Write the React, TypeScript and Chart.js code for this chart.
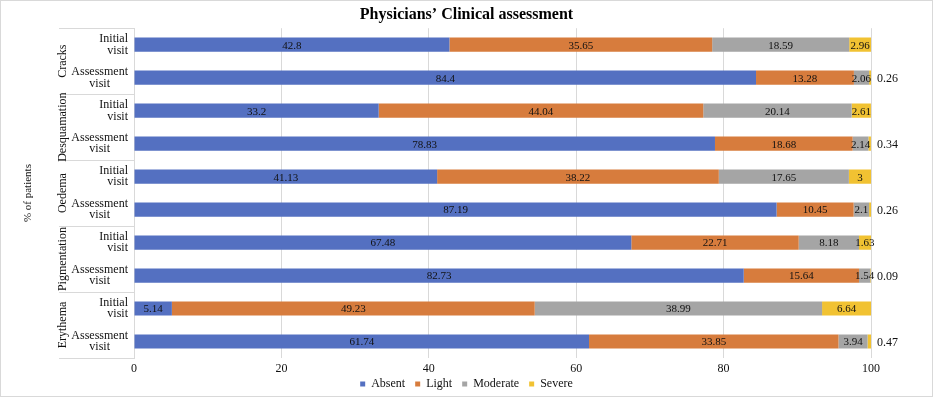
import React, { useEffect, useRef } from 'react';
import { Chart, registerables } from 'chart.js';

Chart.register(...registerables);

const FONT = "'Liberation Serif', 'Times New Roman', serif";
const TEXT = '#111111';
const GRID = '#D9D9D9';

const chartTitle = 'Physicians\u2019 Clinical assessment';
const yAxisTitle = '% of patients';
const groups = ['Cracks', 'Desquamation', 'Oedema', 'Pigmentation', 'Erythema'];
const visits = [['Initial', 'visit'], ['Assessment', 'visit']];
const seriesNames = ['Absent', 'Light', 'Moderate', 'Severe'];
const seriesColors = ['#5470C1', '#D77C3D', '#A5A5A5', '#F1C232'];

const absent = [42.8, 84.4, 33.2, 78.83, 41.13, 87.19, 67.48, 82.73, 5.14, 61.74];
const light = [35.65, 13.28, 44.04, 18.68, 38.22, 10.45, 22.71, 15.64, 49.23, 33.85];
const moderate = [18.59, 2.06, 20.14, 2.14, 17.65, 2.1, 8.18, 1.54, 38.99, 3.94];
const severe = [2.96, 0.26, 2.61, 0.34, 3, 0.26, 1.63, 0.09, 6.64, 0.47];

const xMin = 0;
const xMax = 100;
const xStep = 20;

const labels = groups.flatMap(() => visits);
const seriesValues = [absent, light, moderate, severe];

const groupPlugin = {
  id: 'groupLabels',
  afterLayout(chart: any) {
    // pull the legend up right under the x tick labels
    if (chart.legend) {
      chart.legend.top -= 12;
    }
  },
  afterDraw(chart: any) {
    const { ctx, chartArea } = chart;
    const n = labels.length;
    const rowH = (chartArea.bottom - chartArea.top) / n;
    ctx.save();
    ctx.strokeStyle = GRID;
    ctx.lineWidth = 1;
    for (let k = 0; k <= groups.length; k++) {
      const yy = Math.round(chartArea.top + k * visits.length * rowH) + 0.5;
      ctx.beginPath();
      ctx.moveTo(58, yy);
      ctx.lineTo(chartArea.left, yy);
      ctx.stroke();
    }
    ctx.fillStyle = TEXT;
    ctx.font = `12px ${FONT}`;
    ctx.textAlign = 'center';
    ctx.textBaseline = 'middle';
    groups.forEach((g, gi) => {
      const mid = chartArea.top + (gi + 0.5) * visits.length * rowH;
      ctx.save();
      ctx.translate(62, mid);
      ctx.rotate(-Math.PI / 2);
      ctx.fillText(g, 0, 0);
      ctx.restore();
    });
    ctx.restore();
  },
};

const valueLabelPlugin = {
  id: 'valueLabels',
  afterDatasetsDraw(chart: any) {
    const { ctx, chartArea } = chart;
    ctx.save();
    ctx.fillStyle = TEXT;
    ctx.textBaseline = 'middle';
    chart.data.datasets.forEach((ds: any, di: number) => {
      const meta = chart.getDatasetMeta(di);
      meta.data.forEach((bar: any, i: number) => {
        const v = ds.data[i];
        const outside = di === seriesValues.length - 1 && i % 2 === 1;
        if (outside) {
          ctx.font = `12px ${FONT}`;
          ctx.textAlign = 'left';
          ctx.fillText(String(v), chartArea.right + 6, bar.y + 1);
        } else {
          ctx.font = `11px ${FONT}`;
          ctx.textAlign = 'center';
          ctx.fillText(String(v), (bar.x + bar.base) / 2, bar.y + 1);
        }
      });
    });
    ctx.restore();
  },
};

export default function App() {
  const ref = useRef<HTMLCanvasElement>(null);

  useEffect(() => {
    document.body.style.margin = '0';
    const canvas = ref.current;
    if (!canvas) return;
    const chart = new Chart(canvas, {
      type: 'bar',
      data: {
        labels,
        datasets: seriesNames.map((name, i) => ({
          label: name,
          data: seriesValues[i],
          backgroundColor: seriesColors[i],
          borderWidth: 0,
          barPercentage: 0.43,
          categoryPercentage: 1,
        })),
      },
      options: {
        indexAxis: 'y',
        responsive: false,
        animation: false,
        devicePixelRatio: 1,
        layout: { padding: { left: 0, right: 0, top: 0, bottom: -2 } },
        plugins: {
          title: {
            display: true,
            text: chartTitle,
            color: '#000',
            font: { family: FONT, size: 16, weight: 'bold' },
            padding: { top: 4, bottom: 4 },
          },
          legend: {
            position: 'bottom',
            maxHeight: 18,
            labels: {
              usePointStyle: true,
              pointStyle: 'rect',
              boxWidth: 5,
              boxHeight: 5,
              padding: 10,
              color: TEXT,
              font: { family: FONT, size: 12 },
            },
          },
          tooltip: { enabled: false },
        },
        scales: {
          x: {
            stacked: true,
            min: xMin,
            max: xMax,
            ticks: {
              stepSize: xStep,
              padding: 5,
              color: TEXT,
              font: { family: FONT, size: 12, lineHeight: 1 },
            },
            grid: { color: GRID, drawTicks: false },
            border: { display: false },
          },
          y: {
            stacked: true,
            ticks: {
              padding: 6,
              color: TEXT,
              autoSkip: false,
              font: { family: FONT, size: 12, lineHeight: 0.95 },
              callback: (_v: any, idx: number) => {
                const l = labels[idx];
                if (l[0] === 'Assessment') return [l[0], l[1] + '      '];
                return l;
              },
            },
            grid: { display: false, drawTicks: false },
            border: { display: true, color: GRID },
            title: {
              display: true,
              text: yAxisTitle,
              color: TEXT,
              font: { family: FONT, size: 11 },
              padding: { top: 21, bottom: 0 },
            },
            afterFit: (scale: any) => {
              scale.width = 133;
            },
          },
          yRight: {
            type: 'category',
            position: 'right',
            labels,
            ticks: { display: false },
            grid: { display: false, drawTicks: false },
            border: { display: false },
            afterFit: (scale: any) => {
              scale.width = 61;
            },
          },
        },
      },
      plugins: [groupPlugin, valueLabelPlugin],
    } as any);
    return () => chart.destroy();
  }, []);

  return (
    <div
      style={{
        width: 933,
        height: 397,
        boxSizing: 'border-box',
        border: '1px solid #D9D9D9',
        background: '#fff',
      }}
    >
      <canvas ref={ref} width={931} height={395} style={{ display: 'block' }} />
    </div>
  );
}
